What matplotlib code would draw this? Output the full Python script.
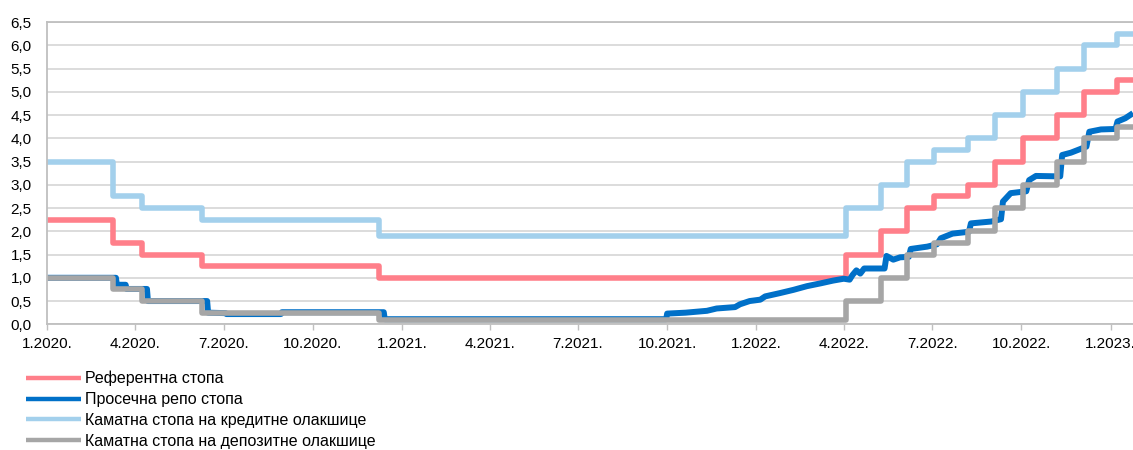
import matplotlib
matplotlib.use("Agg")
import matplotlib.pyplot as plt
import numpy as np
import pandas as pd

plt.rcParams['font.family'] = ['Liberation Sans', 'DejaVu Sans']

# Policy decision dates (effective on chart) and the corridor rates
policy_dates = ["2020-01-01", "2020-03-09", "2020-04-08", "2020-06-09", "2020-12-08",
                "2022-04-03", "2022-05-09", "2022-06-05", "2022-07-03", "2022-08-07",
                "2022-09-04", "2022-10-03", "2022-11-07", "2022-12-05", "2023-01-08"]
reference_rate = [2.25, 1.75, 1.50, 1.25, 1.00,
                  1.50, 2.00, 2.50, 2.75, 3.00,
                  3.50, 4.00, 4.50, 5.00, 5.25]
lending_rate = [3.50, 2.75, 2.50, 2.25, 1.90,
                2.50, 3.00, 3.50, 3.75, 4.00,
                4.50, 5.00, 5.50, 6.00, 6.25]
deposit_rate = [1.00, 0.75, 0.50, 0.25, 0.10,
                0.50, 1.00, 1.50, 1.75, 2.00,
                2.50, 3.00, 3.50, 4.00, 4.25]

# Average repo rate
repo_dates = ["2020-01-01", "2020-03-12", "2020-03-13", "2020-03-22", "2020-03-23",
              "2020-04-13", "2020-04-14", "2020-06-14", "2020-06-15", "2020-07-03",
              "2020-07-04", "2020-08-29", "2020-08-30", "2020-12-13", "2020-12-14",
              "2021-09-30", "2021-10-01", "2021-10-20", "2021-11-11", "2021-11-21",
              "2021-12-10", "2021-12-15", "2021-12-25", "2022-01-05", "2022-01-10",
              "2022-01-25", "2022-02-08", "2022-02-22", "2022-03-08", "2022-03-21",
              "2022-04-01", "2022-04-07", "2022-04-10", "2022-04-14", "2022-04-18",
              "2022-04-22", "2022-05-13", "2022-05-15", "2022-05-22", "2022-05-29",
              "2022-06-07", "2022-06-09", "2022-06-26", "2022-07-06", "2022-07-10",
              "2022-07-22", "2022-08-08", "2022-08-10", "2022-08-31", "2022-09-10",
              "2022-09-12", "2022-09-20", "2022-10-06", "2022-10-09", "2022-10-16",
              "2022-11-10", "2022-11-12", "2022-11-21", "2022-12-07", "2022-12-10",
              "2022-12-22", "2023-01-06", "2023-01-08", "2023-01-16", "2023-01-24"]
repo_rate = [1.00, 1.00, 0.85, 0.85, 0.76,
             0.76, 0.50, 0.50, 0.25, 0.24,
             0.22, 0.22, 0.26, 0.26, 0.11,
             0.11, 0.23, 0.25, 0.29, 0.34,
             0.37, 0.43, 0.50, 0.53, 0.60,
             0.67, 0.74, 0.82, 0.88, 0.94,
             0.98, 0.96, 1.06, 1.16, 1.09,
             1.20, 1.20, 1.47, 1.39, 1.44,
             1.45, 1.62, 1.67, 1.72, 1.85,
             1.95, 1.99, 2.17, 2.21, 2.26,
             2.64, 2.82, 2.86, 3.10, 3.19,
             3.18, 3.64, 3.69, 3.82, 4.14,
             4.19, 4.20, 4.36, 4.43, 4.54]

series_labels = ["Референтна стопа", "Просечна репо стопа",
                 "Каматна стопа на кредитне олакшице",
                 "Каматна стопа на депозитне олакшице"]
colors = ["#FF7F8A", "#0070C8", "#A3D0EC", "#A6A6A6"]

x_start = pd.Timestamp("2020-01-01")
x_end = pd.Timestamp("2023-01-24")

W, H = 1133, 450
fig = plt.figure(figsize=(W / 100, H / 100), dpi=100)
ax = fig.add_axes([47 / W, 1 - 324.3 / H, 1 - 47 / W, (324.3 - 22) / H])

pdates = pd.to_datetime(policy_dates).append(pd.DatetimeIndex([x_end]))

def step_series(vals):
    return list(vals) + [vals[-1]]

lw = 4.0
kw = dict(solid_joinstyle="round", solid_capstyle="butt")
ax.step(pdates, step_series(reference_rate), where="post", color=colors[0], lw=lw,
        label=series_labels[0], **kw)
ax.plot(pd.to_datetime(repo_dates), repo_rate, color=colors[1], lw=lw + 0.3,
        label=series_labels[1], **kw)
ax.step(pdates, step_series(lending_rate), where="post", color=colors[2], lw=lw,
        label=series_labels[2], **kw)
ax.step(pdates, step_series(deposit_rate), where="post", color=colors[3], lw=lw,
        label=series_labels[3], **kw)

ax.set_xlim(x_start, x_end)
ax.set_ylim(0, 6.5)

yticks = np.arange(0, 6.51, 0.5)
ax.set_yticks(yticks)
ax.set_yticklabels([f"{v:.1f}".replace(".", ",") for v in yticks])
ax.yaxis.grid(True, color="#D9D9D9", lw=1.3)
ax.set_axisbelow(True)

xticks = pd.date_range("2020-01-01", "2023-01-01", freq="QS")
ax.set_xticks(xticks)
ax.set_xticklabels([f"{d.month}.{d.year}." for d in xticks])

ax.tick_params(axis="y", length=0, pad=11, labelsize=11, colors="black")
ax.tick_params(axis="x", length=4, width=1, pad=5, labelsize=11,
               colors="#BFBFBF", labelcolor="black")

for side in ["left", "bottom", "top"]:
    ax.spines[side].set_color("#BFBFBF")
    ax.spines[side].set_linewidth(1.3)
ax.spines["right"].set_visible(False)

leg = fig.legend(loc="upper left", bbox_to_anchor=(26 / W, 1 - 371 / H),
                 frameon=False, fontsize=11.5, handlelength=3.45,
                 handletextpad=0.25, labelspacing=0.36, borderpad=0,
                 borderaxespad=0)
for line in leg.get_lines():
    line.set_linewidth(3.2)

fig.savefig("out.png", dpi=100)
